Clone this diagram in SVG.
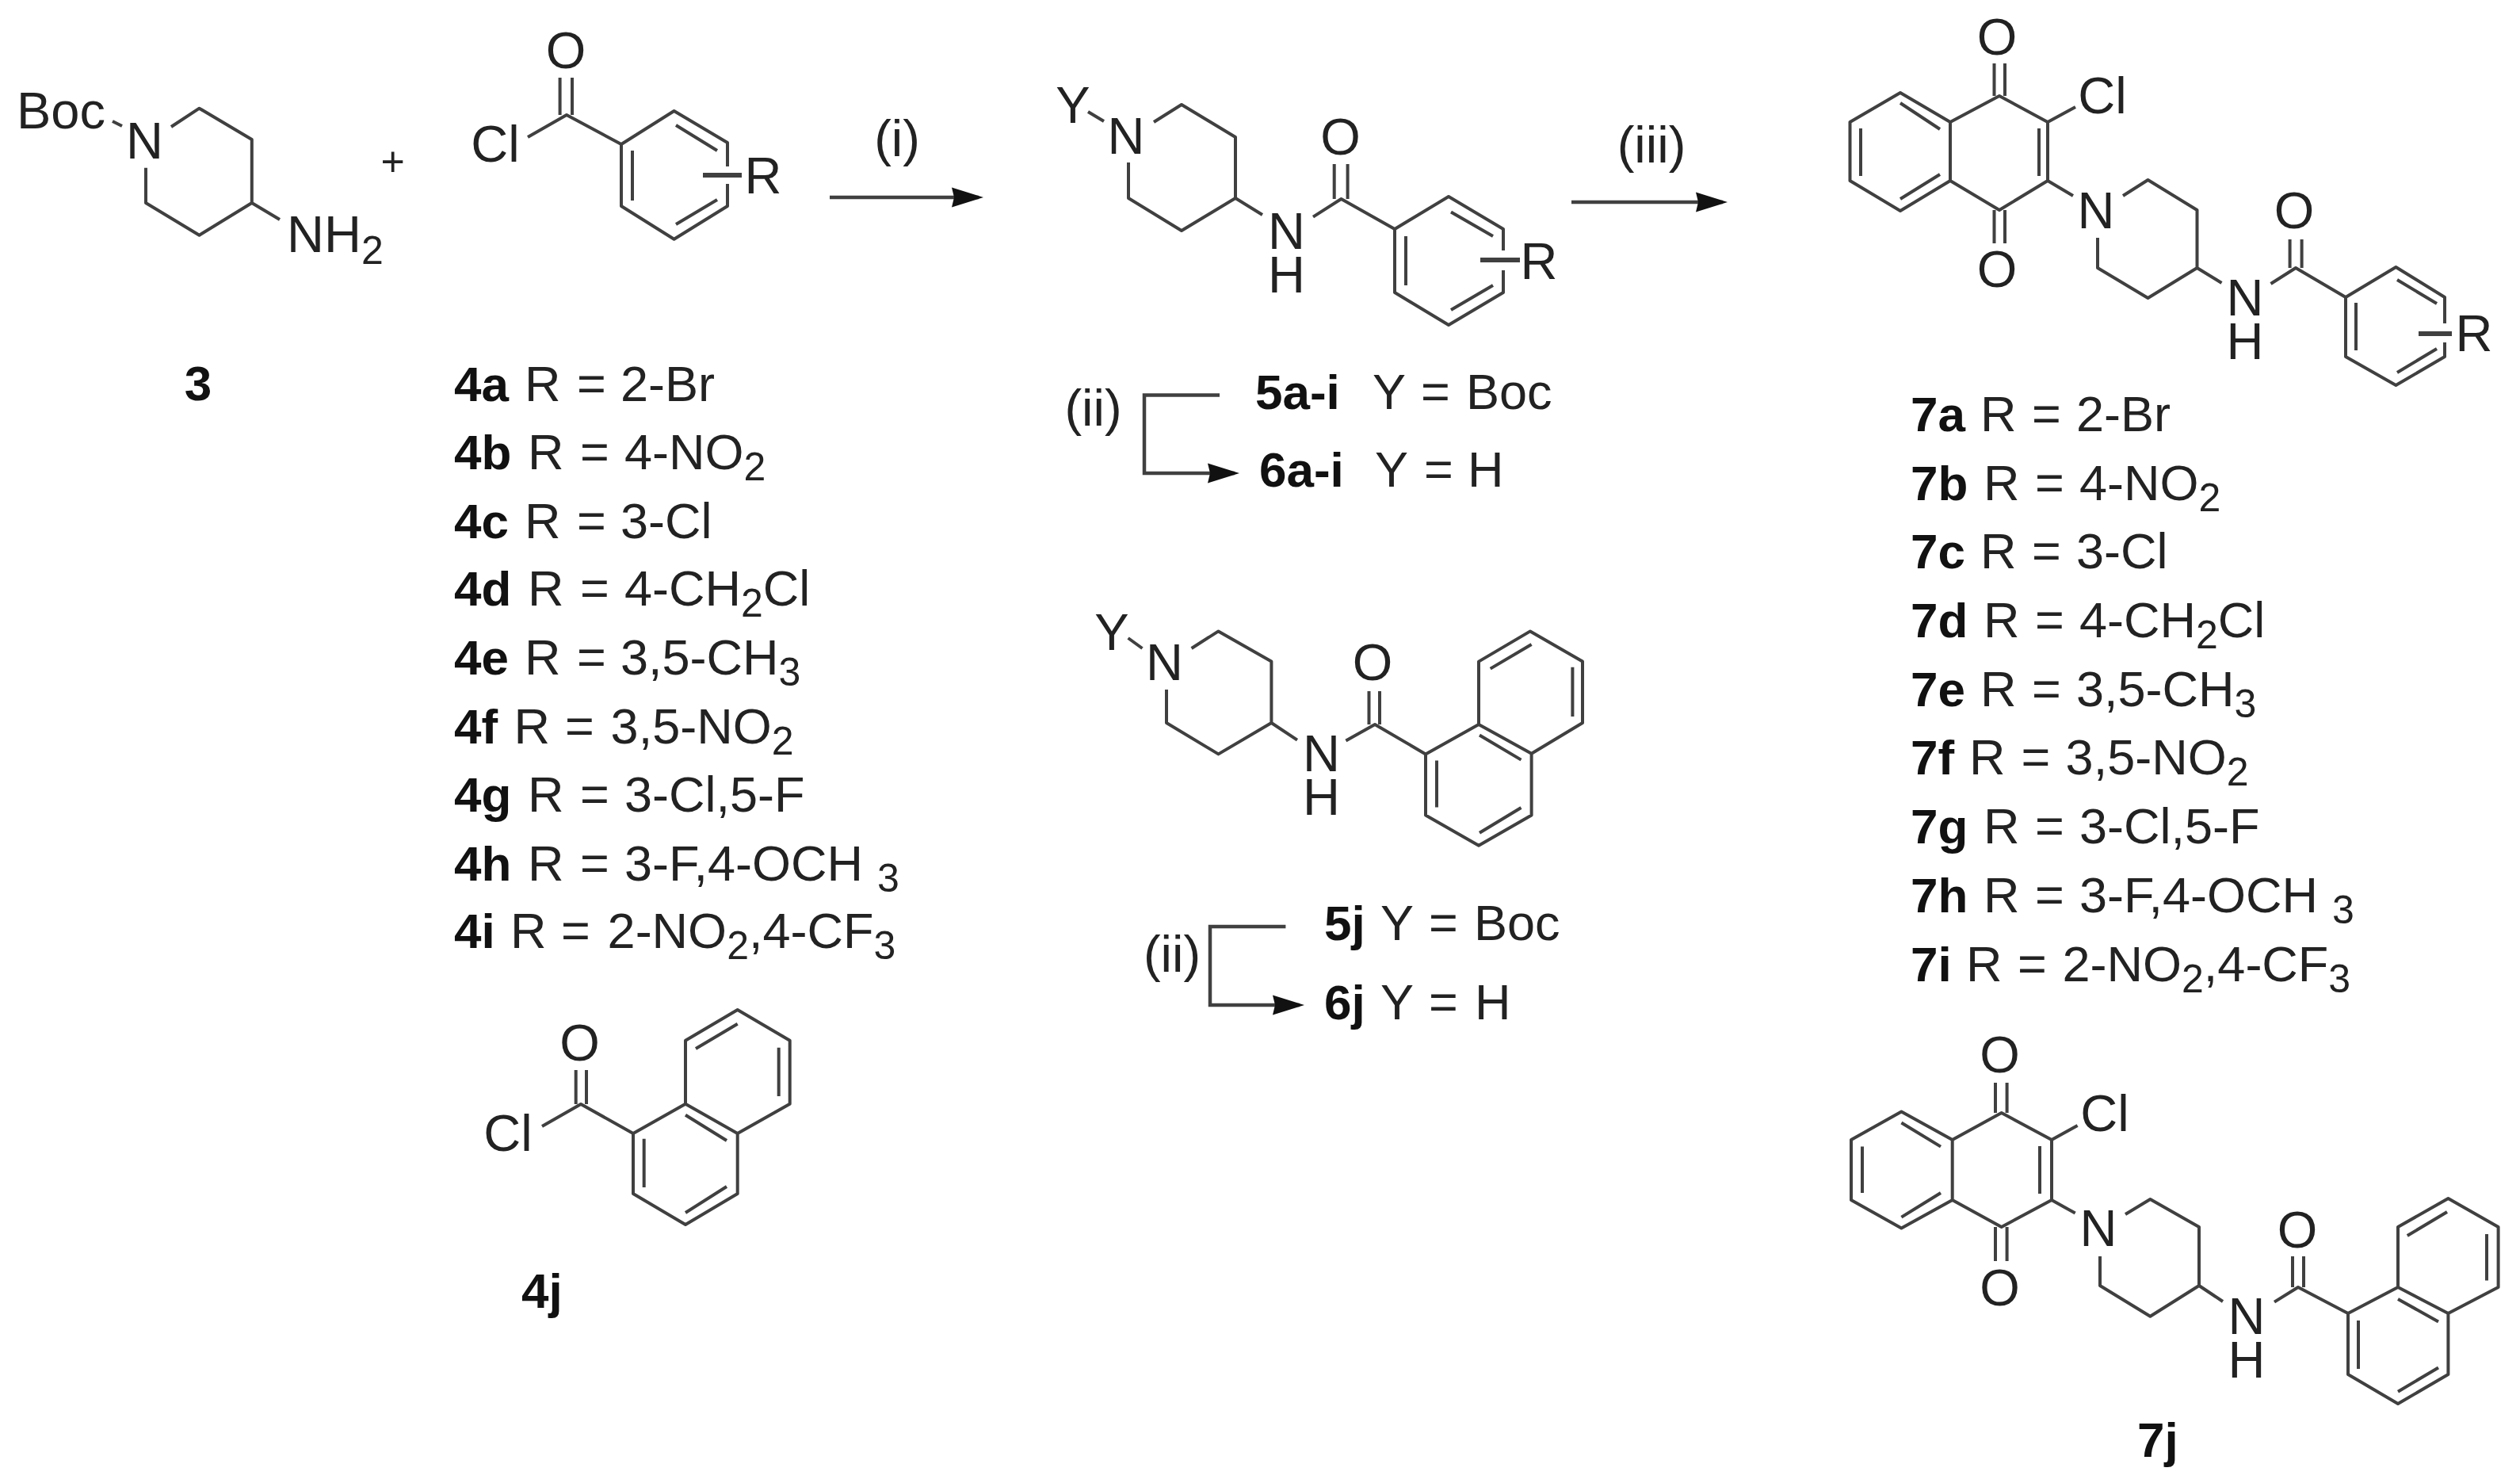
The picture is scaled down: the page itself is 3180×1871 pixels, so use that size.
<svg xmlns="http://www.w3.org/2000/svg" width="3180" height="1871" viewBox="0 0 3180 1871">
<style>
text{font-family:"Liberation Sans",Arial,sans-serif;font-size:63px;fill:#222}
.a{text-anchor:middle;font-size:65px}
.l{font-weight:bold;font-size:62px;fill:#111}
.s{font-size:50px}
.p{font-size:52px}
.bd{fill:none;stroke:#404040;stroke-width:4;stroke-linejoin:round}
.rb{fill:none;stroke:#404040;stroke-width:6}
.ar{fill:none;stroke:#404040;stroke-width:4.5}
</style>
<defs>
<marker id="head" markerUnits="userSpaceOnUse" markerWidth="42" markerHeight="28" refX="34" refY="13" orient="auto"><path d="M0,0.5 L40,13 L0,25.5 L3,13 z" fill="#111"/></marker>
</defs>
<rect width="3180" height="1871" fill="#fff"/>

<g id="connectors">
<path class="ar" d="M1047,249 H1235" marker-end="url(#head)"/>
<path class="ar" d="M1983,255 H2174" marker-end="url(#head)"/>
<path class="ar" d="M1539,498.6 H1444 V597 H1558" marker-end="url(#head)"/>
<path class="ar" d="M1622.4,1169 H1527 V1268 H1640" marker-end="url(#head)"/>
</g>

<g id="reaction-labels">
<text class="a" x="1132" y="197">(i)</text>
<text class="a" x="2084" y="205">(iii)</text>
<text class="a" x="1379.5" y="537">(ii)</text>
<text class="a" x="1479" y="1226">(ii)</text>
<text class="a p" x="495.6" y="222">+</text>
</g>

<g id="compound-3">
<path class="bd" d="M142,153 L154,159 M216,160 L251.5,136.7 L317.8,176 V256 L251.5,296.7 L184,256 V211.7 M317.8,256 L353,277"/>
<text x="21" y="162" style="font-size:65px">Boc</text>
<text class="a" x="182.6" y="200">N</text>
<text x="362" y="318" style="font-size:65px">NH<tspan class="s" dy="15">2</tspan></text>
<text class="l a" x="250" y="505" style="font-size:62px">3</text>
</g>

<g id="compound-4">
<path class="bd" d="M706.6,98 V145 M722,98 V145 M666,173 L715,145 L784,182 M784,182 L850.6,140 L918,180 V210 M918,232 V260 L850.6,301.7 L784,260 V182 M798,190 V253 M853,158 L905,190 M905,252 L853,283"/>
<path class="rb" d="M887,221 H936"/>
<text class="a" x="714" y="86">O</text>
<text class="a" x="625" y="204">Cl</text>
<text class="a" x="963" y="244">R</text>
</g>

<g id="compound-4-list">
<text y="505.5"><tspan class="l" x="573">4a </tspan><tspan x="662">R </tspan><tspan x="728">= </tspan><tspan x="783">2-Br</tspan></text>
<text y="592"><tspan class="l" x="573">4b </tspan><tspan x="666">R </tspan><tspan x="732">= </tspan><tspan x="788">4-NO<tspan class="s" dy="14">2</tspan></tspan></text>
<text y="678.5"><tspan class="l" x="573">4c </tspan><tspan x="662">R </tspan><tspan x="728">= </tspan><tspan x="783">3-Cl</tspan></text>
<text y="764"><tspan class="l" x="573">4d </tspan><tspan x="666">R </tspan><tspan x="732">= </tspan><tspan x="788">4-CH<tspan class="s" dy="14">2</tspan><tspan dy="-14">Cl</tspan></tspan></text>
<text y="851"><tspan class="l" x="573">4e </tspan><tspan x="662">R </tspan><tspan x="728">= </tspan><tspan x="783">3,5-CH<tspan class="s" dy="14">3</tspan></tspan></text>
<text y="937.6"><tspan class="l" x="573">4f </tspan><tspan x="648.5">R </tspan><tspan x="713">= </tspan><tspan x="770.6">3,5-NO<tspan class="s" dy="14">2</tspan></tspan></text>
<text y="1024"><tspan class="l" x="573">4g </tspan><tspan x="666">R </tspan><tspan x="732">= </tspan><tspan x="788">3-Cl,5-F</tspan></text>
<text y="1111"><tspan class="l" x="573">4h </tspan><tspan x="666">R </tspan><tspan x="732">= </tspan><tspan x="788">3-F,4-OCH<tspan class="s" x="1107" dy="14">3</tspan></tspan></text>
<text y="1196"><tspan class="l" x="573">4i </tspan><tspan x="644">R </tspan><tspan x="708">= </tspan><tspan x="766.6">2-NO<tspan class="s" dy="14">2</tspan><tspan dy="-14">,4-CF</tspan><tspan class="s" dy="14">3</tspan></tspan></text>
</g>

<g id="compound-4j">
<path class="bd" d="M726.7,1350 V1393 M740,1350 V1393 M684,1421 L733,1393 L799,1430 M799,1430 V1506 L865,1545 L930.7,1506 V1430 L865,1392.7 L799,1430 M865,1392.7 V1312.7 L930.7,1274 L996.7,1312.7 V1392.7 L930.7,1430 M812.7,1436.7 V1498 M865,1530 L917,1497 M865,1406.7 L917,1439 M878,1323 L930.7,1291.7 M982.7,1321.7 V1383"/>
<text class="a" x="731.5" y="1338">O</text>
<text class="a" x="641" y="1452">Cl</text>
<text class="l" x="658" y="1650">4j</text>
</g>

<g id="compound-5">
<path class="bd" d="M1373,141 L1393,153 M1456,154 L1491,132 L1559,173 V250 L1491,291 L1424,250 V205 M1559,250 L1593,271 M1657,273.6 L1692.5,251 L1760,289 M1683.7,207 V251 M1700.6,207 V251 M1760,289 L1828,248 L1897,289 V316 M1897,341 V369 L1828,410 L1760,369 V289 M1774,298 V360 M1831,267.5 L1884,298 M1884,360 L1831,391"/>
<path class="rb" d="M1868,328 H1918"/>
<text class="a" x="1354" y="155">Y</text>
<text class="a" x="1421" y="194">N</text>
<text class="a"><tspan x="1623.5" y="314">N</tspan><tspan x="1623.5" y="369">H</tspan></text>
<text class="a" x="1691.5" y="195">O</text>
<text class="a" x="1942" y="352">R</text>
</g>

<g id="compound-5-6-labels">
<text y="516"><tspan class="l" x="1584">5a-i </tspan><tspan x="1732">Y </tspan><tspan x="1793">= </tspan><tspan x="1850">Boc</tspan></text>
<text y="614"><tspan class="l" x="1589">6a-i </tspan><tspan x="1735">Y </tspan><tspan x="1797">= </tspan><tspan x="1852">H</tspan></text>
</g>

<g id="compound-5j">
<path class="bd" d="M1423.6,805 L1441.5,818 M1503.6,818 L1537.5,796.4 L1604.4,834.6 V912 L1537.5,951.4 L1472,912 V870 M1604.4,912 L1637,933.6 M1698.4,934.6 L1735,914 L1799,951.4 M1727.5,872 V914 M1741,872 V914 M1799,951.4 V1028.6 L1866,1066.8 L1932.6,1028.6 V950.7 L1866,914 L1799,951.4 M1866,914 V834.6 L1931,796.4 L1997,834.6 V912 L1932.6,950.7 M1813,959.6 V1018.6 M1867,1050.7 L1919.5,1019 M1867,927.5 L1919.5,958.6 M1880.7,843.6 L1932.6,813 M1984.4,841.8 V904"/>
<text class="a" x="1403" y="820">Y</text>
<text class="a" x="1469.5" y="858">N</text>
<text class="a"><tspan x="1667.5" y="973">N</tspan><tspan x="1667.5" y="1028">H</tspan></text>
<text class="a" x="1732" y="858">O</text>
</g>

<g id="compound-5j-6j-labels">
<text y="1186"><tspan class="l" x="1671">5j </tspan><tspan x="1742">Y </tspan><tspan x="1803">= </tspan><tspan x="1860">Boc</tspan></text>
<text y="1286"><tspan class="l" x="1671">6j </tspan><tspan x="1742">Y </tspan><tspan x="1803">= </tspan><tspan x="1861">H</tspan></text>
</g>

<g id="compound-7">
<path class="bd" d="M2516.5,80 V121 M2530,80 V121 M2461,154 L2523,121 L2584,154 L2619,135 M2584,154 V228 L2523,265 L2461,228 V154 L2398,117 L2334.5,154 V228 L2398,266 L2461,228 M2573,162 V222 M2516.5,265 V307 M2530,265 V307 M2398,130 L2448,163 M2348,162 V222 M2398,251 L2448,220 M2584,228 L2616,247 M2679,247 L2710.5,227 L2772.5,265 V338 L2710.5,376 L2647,338 V300 M2772.5,338 L2803.5,357 M2865.5,358 L2897,338 L2960,375 M2889.6,302 V338 M2904.6,302 V338 M2960,375 L3023.4,337 L3085,375 V408 M3085,432 V450 L3023.4,486 L2960,450 V375 M2973,382 V442 M3025,353 L3075,383 M3075,440 L3025,470"/>
<path class="rb" d="M3052,421 H3094"/>
<text class="a" x="2520" y="69">O</text>
<text class="a" x="2520" y="362">O</text>
<text class="a" x="2653" y="143">Cl</text>
<text class="a" x="2645" y="288">N</text>
<text class="a"><tspan x="2833" y="398">N</tspan><tspan x="2833" y="453">H</tspan></text>
<text class="a" x="2895" y="288">O</text>
<text class="a" x="3122" y="443">R</text>
</g>

<g id="compound-7-list">
<text y="544"><tspan class="l" x="2411">7a </tspan><tspan x="2499">R </tspan><tspan x="2564">= </tspan><tspan x="2620">2-Br</tspan></text>
<text y="630.5"><tspan class="l" x="2411">7b </tspan><tspan x="2503">R </tspan><tspan x="2568">= </tspan><tspan x="2624">4-NO<tspan class="s" dy="14">2</tspan></tspan></text>
<text y="717"><tspan class="l" x="2411">7c </tspan><tspan x="2499">R </tspan><tspan x="2564">= </tspan><tspan x="2620">3-Cl</tspan></text>
<text y="804"><tspan class="l" x="2411">7d </tspan><tspan x="2503">R </tspan><tspan x="2568">= </tspan><tspan x="2624">4-CH<tspan class="s" dy="14">2</tspan><tspan dy="-14">Cl</tspan></tspan></text>
<text y="890.7"><tspan class="l" x="2411">7e </tspan><tspan x="2499">R </tspan><tspan x="2564">= </tspan><tspan x="2620">3,5-CH<tspan class="s" dy="14">3</tspan></tspan></text>
<text y="977.4"><tspan class="l" x="2411">7f </tspan><tspan x="2485">R </tspan><tspan x="2550.5">= </tspan><tspan x="2606.6">3,5-NO<tspan class="s" dy="14">2</tspan></tspan></text>
<text y="1064"><tspan class="l" x="2411">7g </tspan><tspan x="2503">R </tspan><tspan x="2568">= </tspan><tspan x="2624">3-Cl,5-F</tspan></text>
<text y="1151"><tspan class="l" x="2411">7h </tspan><tspan x="2503">R </tspan><tspan x="2568">= </tspan><tspan x="2624">3-F,4-OCH<tspan class="s" x="2943" dy="14">3</tspan></tspan></text>
<text y="1237.6"><tspan class="l" x="2411">7i </tspan><tspan x="2481">R </tspan><tspan x="2546">= </tspan><tspan x="2602.5">2-NO<tspan class="s" dy="14">2</tspan><tspan dy="-14">,4-CF</tspan><tspan class="s" dy="14">3</tspan></tspan></text>
</g>

<g id="compound-7j">
<path class="bd" d="M2518,1366 V1404 M2532.6,1366 V1404 M2463.7,1438 L2525.7,1404 L2589,1438 L2621.6,1420 M2589,1438 V1514 L2525.7,1548 L2463.7,1514 V1438 L2399.4,1402.5 L2336,1438 V1514 L2399.4,1549.5 L2463.7,1514 M2574,1446 V1506 M2518,1548 V1591 M2532.6,1548 V1591 M2399.4,1416.5 L2449,1446.6 M2350,1446.6 V1505 M2399.4,1535.6 L2449,1505 M2589,1514 L2618.7,1530.6 M2682,1532 L2713.4,1513 L2775,1548 V1622 L2713.4,1660.7 L2650,1622 V1585 M2775,1622 L2805,1642 M2870,1642.6 L2900,1624 L2963,1657 M2893,1585 V1624 M2907,1585 V1624 M2963,1657 V1734 L3026,1771 L3089.4,1734 V1657 L3026,1624 L2963,1657 M3026,1624 V1548 L3089.4,1512 L3152.6,1548 V1624 L3089.4,1657 M2976,1666 V1727 M3026,1755.7 L3077,1725.5 M3026,1639 L3077,1667.5 M3037.8,1559 L3088,1529 M3138,1557 V1615.5"/>
<text class="a" x="2523.5" y="1353">O</text>
<text class="a" x="2523.5" y="1647">O</text>
<text class="a" x="2656" y="1427">Cl</text>
<text class="a" x="2648" y="1572">N</text>
<text class="a"><tspan x="2835" y="1683">N</tspan><tspan x="2835" y="1738">H</tspan></text>
<text class="a" x="2899" y="1574">O</text>
<text class="l" x="2697" y="1838">7j</text>
</g>
</svg>
